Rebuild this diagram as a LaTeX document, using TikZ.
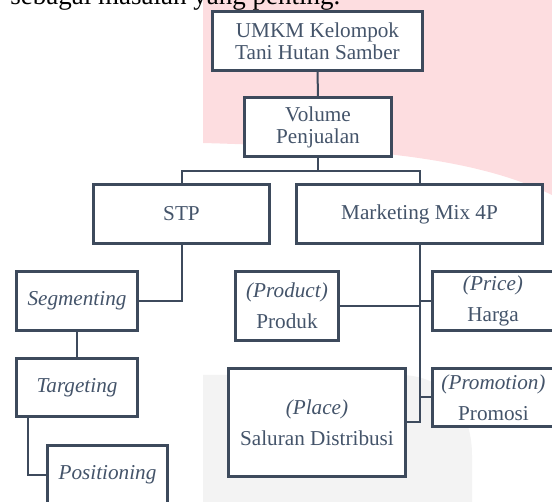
\documentclass[tikz,border=0pt]{standalone}
\usepackage{fontspec}
\setmainfont{Liberation Serif}
\usetikzlibrary{positioning}
\definecolor{boxline}{RGB}{61,74,92}
\definecolor{boxtext}{RGB}{68,84,106}
\definecolor{wmpink}{RGB}{253,221,224}
\definecolor{wmgray}{RGB}{243,243,243}

\begin{document}
\begin{tikzpicture}[x=0.5pt,y=-0.5pt,
  box/.style={rectangle,draw=boxline,line width=1.65pt,fill=white,text=boxtext,align=center,inner sep=0pt,font=\fontsize{10.6}{11}\selectfont},
  pbox/.style={box,font=\fontsize{10.6}{15.5}\selectfont},
  link/.style={draw=boxline,line width=1pt}
]
  \path[use as bounding box,clip] (0,0) rectangle (552,502);
  \fill[wmpink] (203,-5) -- (203,143) .. controls (380,148) and (480,160) .. (552,195) -- (552,-5) -- cycle;
  \fill[wmgray] (203,375) -- (400,375) .. controls (445,375) and (472,410) .. (472,455) -- (472,510) -- (203,510) -- cycle;
  \node[anchor=base west,inner sep=0pt,font=\fontsize{13.5}{16}\selectfont] (intro) at (10,5) {sebagai masalah yang penting.};

  \node[box,minimum width=105pt,minimum height=29.5pt] (umkm) at (317.5,41) {UMKM Kelompok\\Tani Hutan Samber};
  \node[box,minimum width=73.5pt,minimum height=29.5pt] (volume) at (318,127) {Volume\\Penjualan};
  \node[box,minimum width=88pt,minimum height=29.5pt] (stp) at (181.5,214) {STP};
  \node[box,minimum width=123pt,minimum height=29.5pt] (mix) at (419.5,214) {Marketing Mix 4P};
  \node[box,minimum width=60.5pt,minimum height=29.5pt] (seg) at (77,301) {\textit{Segmenting}};
  \node[box,minimum width=60.5pt,minimum height=29pt] (tgt) at (77,387.5) {\textit{Targeting}};
  \node[box,minimum width=60pt,minimum height=29.5pt] (pos) at (107.5,475) {\textit{Positioning}};
  \node[pbox,minimum width=51.5pt,minimum height=34.5pt] (prod) at (287,306) {\textit{(Product)}\\Produk};
  \node[pbox,minimum width=60.5pt,minimum height=29.5pt] (price) at (493,301) {\textit{(Price)}\\Harga};
  \node[pbox,minimum width=88.5pt,minimum height=54pt] (place) at (317,422.5) {\textit{(Place)}\\Saluran Distribusi};
  \node[pbox,minimum width=61pt,minimum height=29pt] (promo) at (493.5,397.5) {\textit{(Promotion)}\\Promosi};

  \coordinate (split) at (318,171);
  \draw[link] (umkm) -- (volume);
  \draw[link] (volume) -- (split);
  \draw[link] (split) -| (stp);
  \draw[link] (split) -| (mix);
  \draw[link] (stp) |- (seg);
  \draw[link] (seg) -- (tgt);
  \draw[link] ([xshift=6.5pt]tgt.south west) |- (pos);
  \draw[link] (mix) |- (place);
  \draw[link] (prod) -- (prod -| mix);
  \draw[link] (price) -- (price -| mix);
  \draw[link] (promo) -- (promo -| mix);
\end{tikzpicture}
\end{document}
